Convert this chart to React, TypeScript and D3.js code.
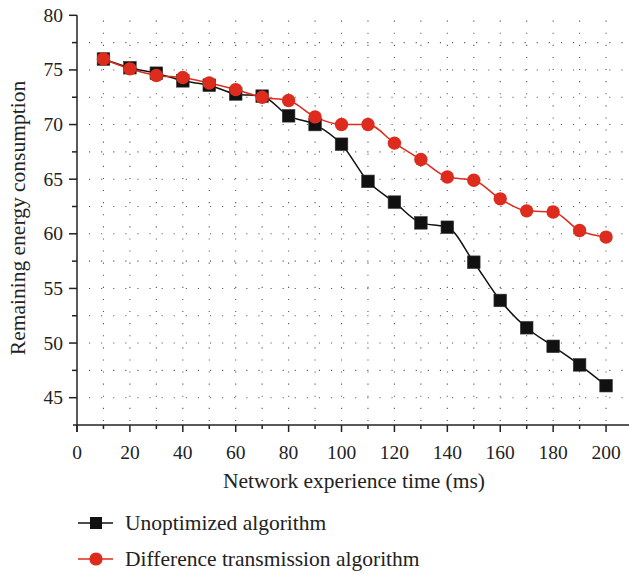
import React from 'react';
import * as d3 from 'd3';

const times = [10, 20, 30, 40, 50, 60, 70, 80, 90, 100, 110, 120, 130, 140, 150, 160, 170, 180, 190, 200];
const unoptimized = [76.0, 75.2, 74.7, 74.0, 73.6, 72.8, 72.6, 70.8, 70.0, 68.2, 64.8, 62.9, 61.0, 60.6, 57.4, 53.9, 51.4, 49.7, 48.0, 46.1];
const difference = [76.0, 75.1, 74.5, 74.3, 73.8, 73.2, 72.5, 72.2, 70.7, 70.0, 70.0, 68.3, 66.8, 65.2, 64.9, 63.2, 62.1, 62.0, 60.3, 59.7];
const xTicks = [0, 20, 40, 60, 80, 100, 120, 140, 160, 180, 200];
const yTicks = [45, 50, 55, 60, 65, 70, 75, 80];
const seriesNames = ['Unoptimized algorithm', 'Difference transmission algorithm'];

const width = 629;
const height = 574;
const font = '"Liberation Serif", "DejaVu Serif", serif';
const red = '#dd2c1e';
const black = '#111111';

const App: React.FC = () => {
    const x = d3.scaleLinear().domain([0, 210]).range([77, 632.5]);
    const y = d3.scaleLinear().domain([42.5, 80]).range([425, 15.3]);

    const line = d3.line<[number, number]>()
        .x(d => x(d[0]))
        .y(d => y(d[1]))
        .curve(d3.curveMonotoneX);

    const blackPts = times.map((t, i) => [t, unoptimized[i]] as [number, number]);
    const redPts = times.map((t, i) => [t, difference[i]] as [number, number]);

    const gridRows = d3.range(45, 80, 2.5);
    const gridCols = d3.range(10, 211, 10);
    const xMinor = d3.range(10, 211, 20);
    const yMinor = d3.range(47.5, 80, 5);

    return (
        <div style={{ position: 'absolute', left: 0, top: 0 }}>
            <svg width={width} height={height} style={{ display: 'block', background: '#fff' }}>
                {/* dotted grid */}
                <g stroke="#555" strokeWidth={1.1} strokeDasharray="1.1 11">
                    {gridRows.map(v => (
                        <line key={'r' + v} x1={x(0) + 12} x2={width} y1={y(v)} y2={y(v)} />
                    ))}
                    {gridCols.map(v => (
                        <line key={'c' + v} x1={x(v)} x2={x(v)} y1={y(42.5) - 4} y2={y(80)} />
                    ))}
                </g>

                {/* axes */}
                <g stroke="#222" strokeWidth={1.5} fill="none">
                    <line x1={x(0)} x2={x(0)} y1={y(80)} y2={y(42.5) + 7} />
                    <line x1={x(0) - 4} x2={width} y1={y(42.5)} y2={y(42.5)} />
                    {xTicks.map(t => (
                        <line key={'xt' + t} x1={x(t)} x2={x(t)} y1={y(42.5)} y2={y(42.5) + 7} />
                    ))}
                    {xMinor.map(t => (
                        <line key={'xm' + t} x1={x(t)} x2={x(t)} y1={y(42.5)} y2={y(42.5) + 4} />
                    ))}
                    {yTicks.map(t => (
                        <line key={'yt' + t} x1={x(0) - 8} x2={x(0)} y1={y(t)} y2={y(t)} />
                    ))}
                    {yMinor.map(t => (
                        <line key={'ym' + t} x1={x(0) - 5} x2={x(0)} y1={y(t)} y2={y(t)} />
                    ))}
                </g>

                <g fontFamily={font} fontSize={19.5} fill="#222">
                    {xTicks.map(t => (
                        <text key={'xl' + t} x={x(t)} y={458.5} textAnchor="middle">{t}</text>
                    ))}
                    {yTicks.map(t => (
                        <text key={'yl' + t} x={63} y={y(t) + 6.5} textAnchor="end">{t}</text>
                    ))}
                </g>

                <text x={354} y={488} textAnchor="middle" fontFamily={font} fontSize={21.5} fill="#222">
                    Network experience time (ms)
                </text>
                <text transform={`translate(25, ${218}) rotate(-90)`} textAnchor="middle" fontFamily={font} fontSize={21.5} fill="#222">
                    Remaining energy consumption
                </text>

                {/* series */}
                <path d={line(blackPts) ?? ''} fill="none" stroke={black} strokeWidth={1.5} />
                <path d={line(redPts) ?? ''} fill="none" stroke={red} strokeWidth={1.5} />
                {blackPts.map(p => (
                    <rect key={'b' + p[0]} x={x(p[0]) - 6.3} y={y(p[1]) - 6.3} width={12.6} height={12.6} fill={black} stroke="#333" strokeWidth={0.6} />
                ))}
                {redPts.map(p => (
                    <circle key={'d' + p[0]} cx={x(p[0])} cy={y(p[1])} r={6.7} fill={red} />
                ))}

                {/* legend */}
                <g fontFamily={font} fontSize={21.5} fill="#222">
                    <line x1={78} x2={113} y1={523} y2={523} stroke={black} strokeWidth={1.5} />
                    <rect x={90} y={517} width={12} height={12} fill={black} />
                    <text x={125} y={530}>{seriesNames[0]}</text>
                    <line x1={78} x2={113} y1={559} y2={559} stroke={red} strokeWidth={1.5} />
                    <circle cx={96} cy={559} r={6.6} fill={red} />
                    <text x={125} y={566}>{seriesNames[1]}</text>
                </g>
            </svg>
        </div>
    );
};

export default App;
